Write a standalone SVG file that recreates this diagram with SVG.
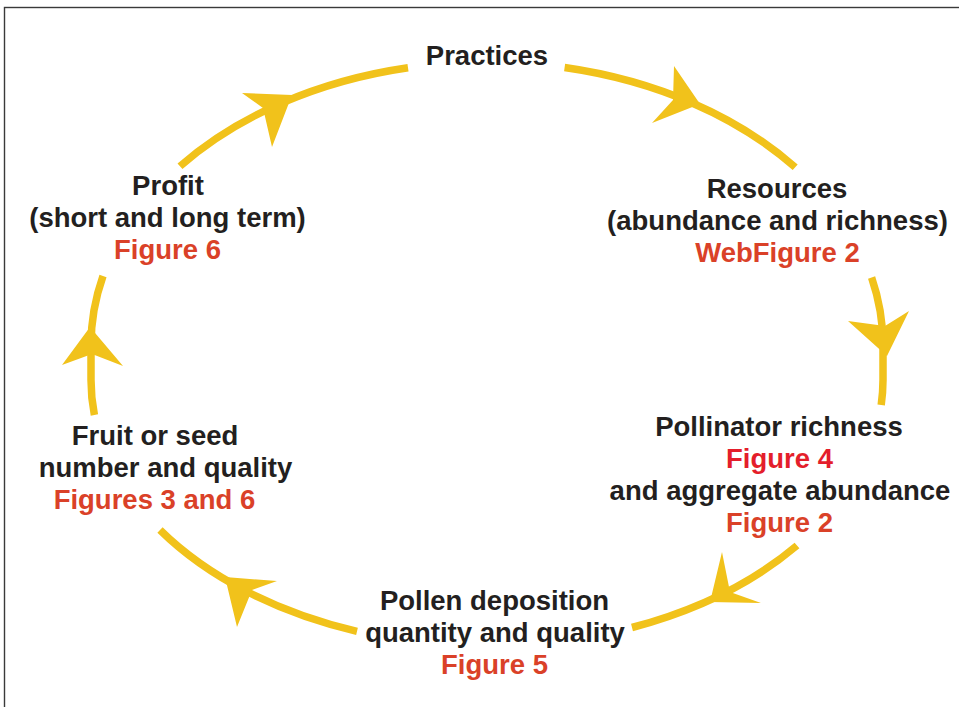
<svg xmlns="http://www.w3.org/2000/svg" width="959" height="707" viewBox="0 0 959 707">
<style>
  .arc { fill: none; stroke: #F1C21B; stroke-width: 7.5; stroke-linecap: butt; }
  .head { fill: #F1C21B; }
  text { font-family: "Liberation Sans", Arial, sans-serif; font-weight: bold; font-size: 27.5px; text-anchor: middle; }
  .k { fill: #231F20; }
  .r { fill: #DA4128; }
  .r2 { fill: #E41E2B; }
</style>
<rect x="4.5" y="7.5" width="960" height="710" fill="#ffffff" stroke="#3a3a3a" stroke-width="1.4"/>
<g id="connectors">
  <path class="arc" d="M564.6,67.5 A396,283 0 0 1 795.2,167.3"/>
  <polygon class="head" points="700,104 674,66 673,100 652,123"/>
  <path class="arc" d="M871.6,277.5 A396,283 0 0 1 883,345 L883,380 A396,266 0 0 1 881.2,405"/>
  <polygon class="head" points="887,356 848,321 885,326 909,311"/>
  <path class="arc" d="M797,545.5 A396,266 0 0 1 632,627.5"/>
  <polygon class="head" points="710,602 722,552 730,592 761,603"/>
  <path class="arc" d="M357,631.3 A396,266 0 0 1 160,530"/>
  <polygon class="head" points="225,577 277,581 252,590 237,627"/>
  <path class="arc" d="M94.4,415 A396,266 0 0 1 91,380 L91,345 A396,283 0 0 1 103,276"/>
  <polygon class="head" points="90,327 123,366 92,354 62,365"/>
  <path class="arc" d="M180,166.2 A396,283 0 0 1 408,67.7"/>
  <polygon class="head" points="292,95 272,147 263,108 242,93"/>
</g>
<g id="practices">
  <text class="k" x="487" y="65">Practices</text>
</g>
<g id="resources">
  <text class="k" x="777" y="198">Resources</text>
  <text class="k" x="777.5" y="230">(abundance and richness)</text>
  <text class="r" x="777.5" y="262">WebFigure 2</text>
</g>
<g id="pollinators">
  <text class="k" x="779" y="436">Pollinator richness</text>
  <text class="r2" x="779.5" y="468">Figure 4</text>
  <text class="k" x="780" y="500">and aggregate abundance</text>
  <text class="r" x="779.5" y="532">Figure 2</text>
</g>
<g id="pollen">
  <text class="k" x="494.5" y="610">Pollen deposition</text>
  <text class="k" x="495" y="642">quantity and quality</text>
  <text class="r" x="494.5" y="674">Figure 5</text>
</g>
<g id="fruit">
  <text class="k" x="155" y="445">Fruit or seed</text>
  <text class="k" x="165.5" y="477">number and quality</text>
  <text class="r" x="154.5" y="509">Figures 3 and 6</text>
</g>
<g id="profit">
  <text class="k" x="168" y="195">Profit</text>
  <text class="k" x="167.5" y="227">(short and long term)</text>
  <text class="r" x="167.5" y="259">Figure 6</text>
</g>
</svg>
